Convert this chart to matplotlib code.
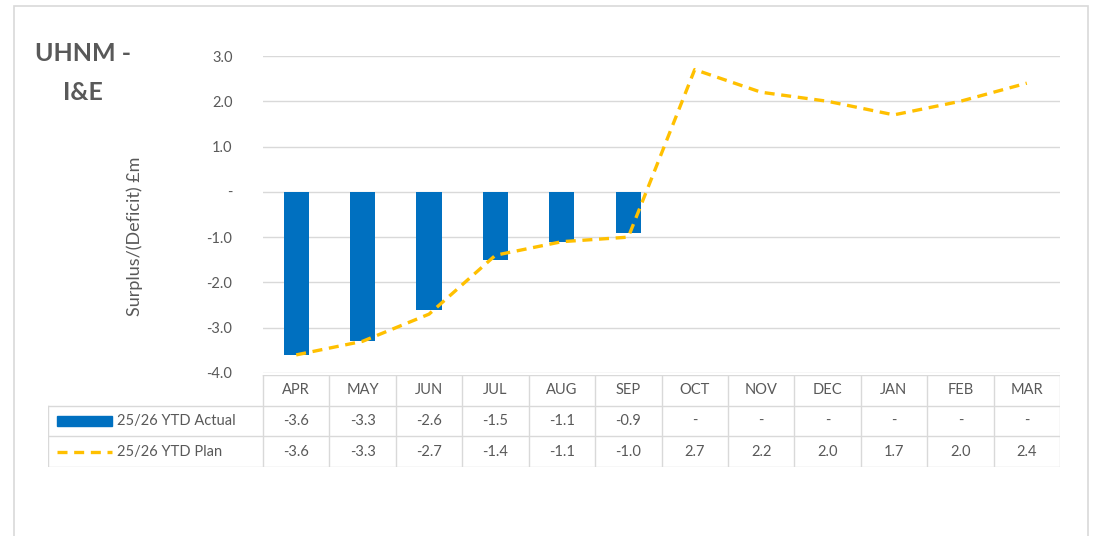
import matplotlib.pyplot as plt
from matplotlib.patches import Rectangle
from matplotlib.lines import Line2D

plt.rcParams['font.family'] = ['Lato', 'DejaVu Sans']

months = ['APR', 'MAY', 'JUN', 'JUL', 'AUG', 'SEP',
          'OCT', 'NOV', 'DEC', 'JAN', 'FEB', 'MAR']
actual = [-3.6, -3.3, -2.6, -1.5, -1.1, -0.9]
plan = [-3.6, -3.3, -2.7, -1.4, -1.1, -1.0, 2.7, 2.2, 2.0, 1.7, 2.0, 2.4]
yticks = [3, 2, 1, 0, -1, -2, -3, -4]

BLUE = '#0070C0'
GOLD = '#FFC000'
TEXT = '#595959'
GRID = '#D9D9D9'
FS = 10.5

W, H = 1099, 536
fig = plt.figure(figsize=(W / 100, H / 100), dpi=100)


def px(x0, y0, x1, y1):
    return [x0 / W, 1 - y1 / H, (x1 - x0) / W, (y1 - y0) / H]


# outer chart frame
fig.patches.append(Rectangle((14 / W, -0.01), (1088 - 14) / W, 1 - 6 / H + 0.01,
                             transform=fig.transFigure, fill=False,
                             edgecolor=GRID, linewidth=1.2))

ax = fig.add_axes(px(263, 56, 1060, 373))
x = list(range(len(months)))
ax.bar(x[:len(actual)], actual, width=0.38, color=BLUE, zorder=2)
ax.plot(x, plan, color=GOLD, linewidth=2.4, linestyle=(0, (3, 2)), zorder=3)
ax.set_xlim(-0.5, len(months) - 0.5)
ax.set_ylim(-4, 3)
ax.set_yticks(yticks)
ax.set_yticklabels(['-' if v == 0 else f'{v:.1f}' for v in yticks],
                   fontsize=FS, color=TEXT)
ax.tick_params(axis='y', length=0, pad=22)
ax.set_xticks([])
ax.grid(axis='y', color=GRID, linewidth=1, zorder=0)
for s in ax.spines.values():
    s.set_visible(False)
ax.set_ylabel('Surplus/(Deficit) £m', fontsize=13, color=TEXT)
ax.yaxis.set_label_coords(-120 / 797, 0.43)

fig.text(83 / W, 1 - 73 / H, 'UHNM -\nI&E', ha='center', va='center',
         fontsize=18, fontweight='bold', color=TEXT, linespacing=1.85)

# data table under the axis
leg_w = (263 - 48) / ((1060 - 263) / len(months))
tab = fig.add_axes(px(48, 375, 1060, 467))
tab.set_xlim(-0.5 - leg_w, len(months) - 0.5)
tab.set_ylim(3, 0)
tab.axis('off')

lk = dict(color=GRID, linewidth=1)
tab.plot([-0.5, len(months) - 0.5], [0, 0], **lk)
for r in (1, 2, 3):
    tab.plot([-0.5 - leg_w, len(months) - 0.5], [r, r], **lk)
tab.plot([-0.5 - leg_w] * 2, [1, 3], **lk)
for c in range(len(months) + 1):
    tab.plot([c - 0.5] * 2, [0, 3], **lk)

rows = [
    ['-' if i >= len(actual) else f'{actual[i]:.1f}' for i in range(len(months))],
    [f'{v:.1f}' for v in plan],
]
for i, m in enumerate(months):
    tab.text(i, 0.5, m, ha='center', va='center', fontsize=FS, color=TEXT)
    for r, row in enumerate(rows):
        tab.text(i, 1.5 + r, row[i], ha='center', va='center',
                 fontsize=FS, color=TEXT)

k0 = -0.5 - leg_w + 9 / 66.4
k1 = k0 + 55 / 66.4
tab.add_patch(Rectangle((k0, 1.35), k1 - k0, 0.3, color=BLUE))
tab.add_line(Line2D([k0, k1], [2.5, 2.5], color=GOLD, linewidth=2.4,
                    linestyle=(0, (3, 2))))
tab.text(k1 + 5 / 66.4, 1.5, '25/26 YTD Actual', va='center', fontsize=FS, color=TEXT)
tab.text(k1 + 5 / 66.4, 2.5, '25/26 YTD Plan', va='center', fontsize=FS, color=TEXT)

fig.savefig('out.png', dpi=100)
